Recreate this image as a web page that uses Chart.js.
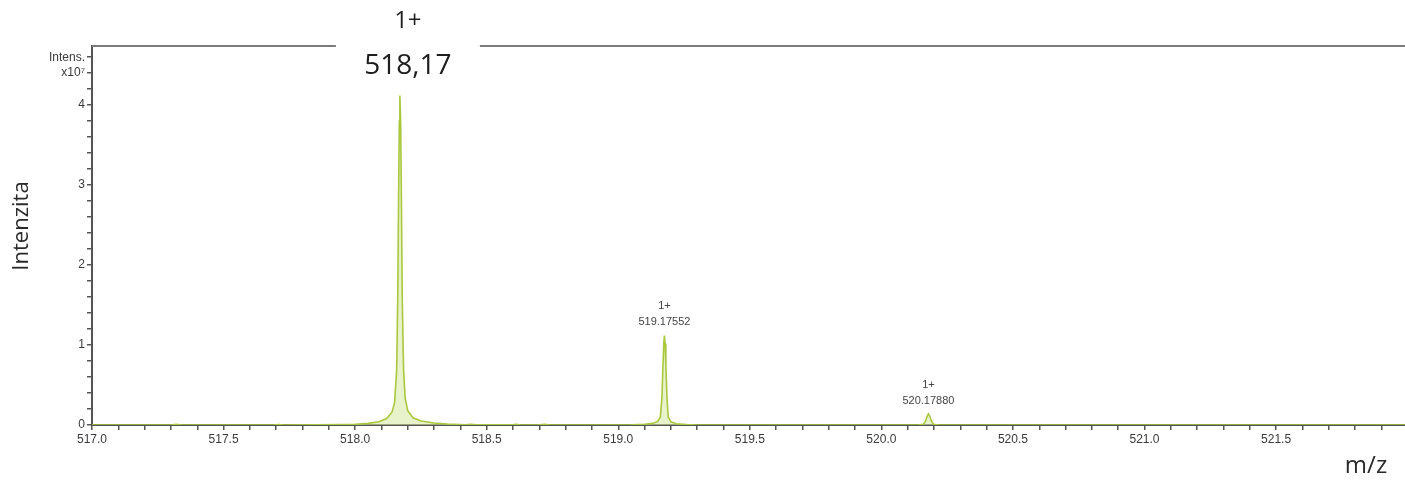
<!DOCTYPE html>
<html>
<head>
<meta charset="utf-8">
<title>Hmotnostní spektrum</title>
<script src="https://cdn.jsdelivr.net/npm/chart.js@4/dist/chart.umd.min.js"></script>
<style>
  html, body { margin: 0; padding: 0; background: #fff; }
  #wrap { width: 1405px; height: 486px; }
</style>
</head>
<body>
<div id="wrap"><canvas id="spec" width="1405" height="486"></canvas></div>
<script>
// m/z values of the profile spectrum
const mz = [
  517.00, 517.30, 517.32, 517.34, 517.69, 517.71, 517.73, 517.85, 517.95,
  518.00, 518.05, 518.09, 518.12, 518.14, 518.15, 518.158, 518.162, 518.165,
  518.168, 518.17, 518.173, 518.176, 518.179, 518.184, 518.19, 518.20, 518.22,
  518.25, 518.30, 518.35, 518.42, 518.44, 518.46, 518.60, 518.61, 518.63,
  518.70, 518.72, 518.74, 518.90, 519.05, 519.10, 519.13, 519.15, 519.16,
  519.166, 519.17, 519.173, 519.17552, 519.178, 519.181, 519.185, 519.19,
  519.20, 519.22, 519.26, 519.30, 520.14, 520.16, 520.168, 520.174, 520.1788,
  520.184, 520.19, 520.198, 520.22, 521.99
];
// intensities (x10^7)
const intensity = [
  0, 0, 0.008, 0, 0, 0.006, 0, 0.003, 0.005,
  0.008, 0.02, 0.04, 0.08, 0.16, 0.28, 0.7, 1.6, 2.8,
  3.8, 4.12, 3.8, 2.8, 1.6, 0.7, 0.34, 0.18, 0.09,
  0.05, 0.025, 0.012, 0.004, 0.01, 0.003, 0.002, 0.008, 0,
  0.003, 0.008, 0, 0, 0.003, 0.008, 0.02, 0.045, 0.1,
  0.35, 0.75, 1.02, 1.12, 1.02, 0.75, 0.35, 0.1,
  0.04, 0.015, 0.006, 0, 0, 0.01, 0.05, 0.11, 0.14,
  0.11, 0.05, 0.01, 0, 0
];

// annotated peaks
const peakMz = [518.17, 519.17552, 520.1788];
const peakIntensity = [4.12, 1.12, 0.14];
const peakCharge = ['1+', '1+', '1+'];
const peakText = ['518,17', '519.17552', '520.17880'];

// axis tick labels
const xTickLabels = ['517.0', '517.5', '518.0', '518.5', '519.0', '519.5', '520.0', '520.5', '521.0', '521.5'];
const yTickLabels = ['0', '1', '2', '3', '4'];

const axisColor = '#555555';
const tickFont = { family: 'Liberation Sans, Arial, sans-serif', size: 12 };

const framePlugin = {
  id: 'frame',
  beforeDatasetsDraw(chart) {
    const { ctx, chartArea } = chart;
    ctx.save();
    ctx.strokeStyle = '#7a7a7a';
    ctx.lineWidth = 2;
    ctx.beginPath();
    ctx.moveTo(chartArea.left, chartArea.top);
    ctx.lineTo(chartArea.right, chartArea.top);
    ctx.stroke();
    ctx.restore();
  },
  afterDraw(chart) {
    const { ctx, scales } = chart;
    const xs = scales.x, ys = scales.y;
    ctx.save();

    // main peak label box over the frame
    const mainX = xs.getPixelForValue(peakMz[0]) + 8;
    ctx.fillStyle = '#ffffff';
    ctx.fillRect(mainX - 72, 0, 144, 90);
    ctx.fillStyle = '#1e1e1e';
    ctx.textAlign = 'center';
    ctx.textBaseline = 'middle';
    ctx.font = '24px "Open Sans", sans-serif';
    ctx.fillText(peakCharge[0], mainX, 21);
    ctx.font = '28px "Open Sans", sans-serif';
    ctx.fillText(peakText[0], mainX, 66);

    // smaller peak annotations
    ctx.fillStyle = '#444444';
    ctx.font = '11px "Liberation Sans", Arial, sans-serif';
    for (let i = 1; i < peakMz.length; i++) {
      const px = xs.getPixelForValue(peakMz[i]);
      const py = ys.getPixelForValue(peakIntensity[i]);
      ctx.fillText(peakCharge[i], px, py - 29);
      ctx.fillText(peakText[i], px, py - 13);
    }

    // axis titles
    ctx.fillStyle = '#2a2a2a';
    ctx.font = '22px "Open Sans", sans-serif';
    ctx.save();
    ctx.translate(22, 226);
    ctx.rotate(-Math.PI / 2);
    ctx.fillText('Intenzita', 0, 0);
    ctx.restore();
    ctx.font = '24px "Open Sans", sans-serif';
    ctx.fillText('m/z', 1366, 466);
    ctx.restore();
  }
};

new Chart(document.getElementById('spec'), {
  type: 'line',
  data: {
    datasets: [{
      data: mz.map((v, i) => ({ x: v, y: intensity[i] })),
      borderColor: '#a9c83e',
      backgroundColor: 'rgba(214, 232, 160, 0.55)',
      borderWidth: 1.6,
      pointRadius: 0,
      tension: 0,
      fill: 'origin'
    }]
  },
  options: {
    responsive: false,
    animation: false,
    layout: { padding: { top: 46, right: 0, left: 0, bottom: 0 } },
    plugins: { legend: { display: false }, tooltip: { enabled: false } },
    scales: {
      x: {
        type: 'linear',
        min: 517.0,
        max: 521.99,
        afterFit(s) { s.height = 61; },
        border: { display: true, color: axisColor, width: 2 },
        grid: { drawOnChartArea: false, color: axisColor, tickLength: 5, lineWidth: 1.5 },
        ticks: {
          stepSize: 0.1,
          autoSkip: false,
          includeBounds: false,
          maxRotation: 0,
          padding: 2,
          color: '#3a3a3a',
          font: tickFont,
          callback(v) {
            const k = Math.round(v * 10);
            if (k % 5 !== 0) return '';
            const idx = (k - 5170) / 5;
            return xTickLabels[idx] ?? '';
          }
        }
      },
      y: {
        min: 0,
        max: 4.74,
        afterFit(s) { s.width = 92; },
        border: { display: true, color: axisColor, width: 2 },
        grid: { drawOnChartArea: false, color: axisColor, tickLength: 5, lineWidth: 1.5 },
        ticks: {
          stepSize: 0.2,
          autoSkip: false,
          includeBounds: false,
          padding: 2,
          color: '#3a3a3a',
          font: tickFont,
          callback(v) {
            const k = Math.round(v * 10);
            if (k === 46) return 'Intens.';
            if (k === 44) return 'x10\u2077';
            if (k % 10 !== 0) return '';
            return yTickLabels[k / 10] ?? '';
          }
        }
      }
    }
  },
  plugins: [framePlugin]
});
</script>
</body>
</html>
